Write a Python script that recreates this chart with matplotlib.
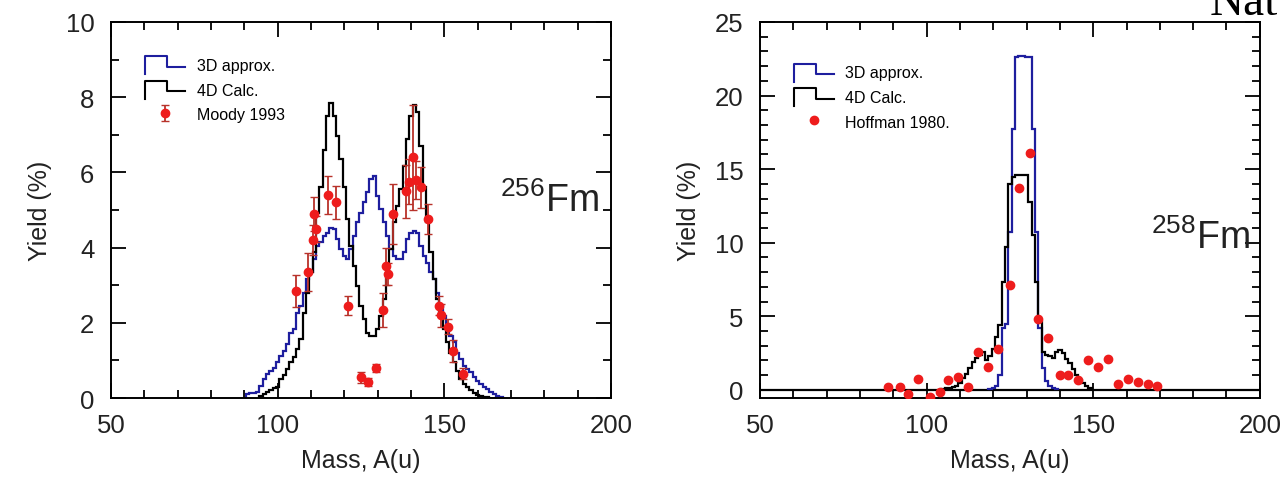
import numpy as np
import matplotlib.pyplot as plt
from matplotlib.legend_handler import HandlerBase
from matplotlib.lines import Line2D

plt.rcParams["font.family"] = ["Liberation Sans", "DejaVu Sans"]
plt.rcParams["mathtext.default"] = "regular"

# --- 256Fm : calculated yields, 1 u bins -------------------------------
fm256_black_start = 95
fm256_black = [
    0.06, 0.10, 0.15, 0.20, 0.26, 0.30, 0.50, 0.62, 0.77, 0.95,
    1.10, 1.30, 1.57, 2.27, 2.80, 3.34, 3.87, 4.93, 5.60, 6.60,
    7.50, 7.85, 7.50, 6.97, 6.35, 5.60, 4.76, 4.05, 3.50, 2.98,
    2.45, 2.10, 1.74, 1.65, 1.65, 1.83, 2.18, 2.63, 3.25, 3.96,
    4.67, 5.10, 5.55, 6.17, 6.88, 7.50, 7.80, 7.60, 6.70, 5.60,
    4.67, 3.87, 3.16, 2.63, 2.18, 1.83, 1.48, 1.21, 0.95, 0.73,
    0.50, 0.37, 0.28, 0.20, 0.13, 0.08, 0.05, 0.03, 0.02,
]
fm256_blue_start = 91
fm256_blue = [
    0.10, 0.12, 0.12, 0.15, 0.33, 0.50, 0.63, 0.72, 0.81, 0.95,
    1.12, 1.26, 1.43, 1.74, 1.83, 2.27, 2.45, 2.80, 3.16, 3.34,
    3.69, 4.05, 4.14, 4.31, 4.40, 4.53, 4.49, 4.22, 3.96, 3.78,
    3.69, 3.96, 4.31, 4.67, 4.93, 5.20, 5.47, 5.82, 5.91, 5.38,
    5.02, 4.67, 4.31, 3.96, 3.78, 3.69, 3.69, 3.87, 4.22, 4.40,
    4.45, 4.40, 4.05, 3.78, 3.60, 3.34, 3.16, 2.80, 2.45, 2.18,
    1.92, 1.65, 1.48, 1.21, 1.04, 0.86, 0.77, 0.68, 0.55, 0.46,
    0.37, 0.28, 0.24, 0.15, 0.10, 0.06, 0.02,
]
# Moody 1993 measured yields
moody_mass = [105.5, 109.0, 110.5, 111.0, 111.5, 115.0, 117.5, 121.0, 125.0,
              127.0, 129.5, 131.5, 132.5, 133.0, 134.5, 138.5, 139.5, 140.5,
              141.5, 143.0, 145.0, 148.5, 149.0, 151.0, 152.5, 155.5]
moody_yield = [2.85, 3.35, 4.2, 4.9, 4.5, 5.4, 5.2, 2.45, 0.55,
               0.42, 0.8, 2.35, 3.5, 3.3, 4.9, 5.5, 5.75, 6.4,
               5.8, 5.6, 4.75, 2.45, 2.2, 1.9, 1.25, 0.65]
moody_err = [0.42, 0.5, 0.4, 0.45, 0.35, 0.5, 0.45, 0.25, 0.15,
             0.1, 0.1, 0.45, 0.5, 0.3, 0.8, 0.7, 0.6, 1.4,
             0.5, 0.55, 0.4, 0.25, 0.3, 0.2, 0.3, 0.15]

# --- 258Fm : calculated yields, 1 u bins -------------------------------
fm258_black_start = 105
fm258_black = [
    0.05, 0.10, 0.15, 0.20, 0.30, 0.50, 0.80, 1.10, 1.50, 1.90,
    2.20, 2.40, 2.55, 2.00, 2.30, 2.80, 3.60, 4.40, 7.30, 9.70,
    14.0, 14.5, 14.6, 14.6, 14.6, 14.6, 12.8, 10.5, 7.30, 4.60,
    2.60, 2.40, 2.30, 2.20, 2.60, 2.70, 2.50, 2.10, 1.80, 1.40,
    1.00, 0.70, 0.50, 0.30, 0.10,
]
fm258_blue_start = 119
fm258_blue = [
    0.05, 0.10, 0.30, 1.00, 4.20, 4.50, 10.7, 17.7, 22.6, 22.7,
    22.7, 22.6, 22.6, 17.7, 10.7, 4.20, 1.50, 0.60, 0.30, 0.10,
    0.05,
]
# Hoffman 1980 measured yields
hoffman_mass = [88.5, 92.0, 94.5, 97.5, 101.0, 104.0, 106.5, 109.5, 112.5,
                115.5, 118.5, 121.5, 125.0, 127.8, 131.0, 133.5, 136.5, 140.0,
                142.5, 145.5, 148.5, 151.5, 154.5, 157.5, 160.5, 163.5, 166.5,
                169.0]
hoffman_yield = [0.2, 0.2, -0.25, 0.76, -0.48, -0.14, 0.65, 0.88, 0.2,
                 2.57, 1.56, 2.8, 7.1, 13.7, 16.1, 4.84, 3.55, 1.0,
                 1.04, 0.65, 2.0, 1.56, 2.1, 0.43, 0.76, 0.54, 0.43,
                 0.3]

BLUE = "#1e1e9e"
RED = "#ee1c1c"
EBAR = "#b8322a"
TEXT = "#222222"


class StepHandler(HandlerBase):
    """Legend key drawn as a small step, like a histogram edge."""

    def create_artists(self, legend, orig_handle, xdescent, ydescent,
                       width, height, fontsize, trans):
        x0, y0 = -xdescent, -ydescent
        xs = [x0, x0, x0 + 0.55 * width, x0 + 0.55 * width, x0 + width]
        ys = [y0 - 0.15 * height, y0 + 1.05 * height, y0 + 1.05 * height,
              y0 + 0.35 * height, y0 + 0.35 * height]
        line = Line2D(xs, ys, color=orig_handle.get_edgecolor(), lw=1.5,
                      transform=trans)
        return [line]


def edges(start, values):
    return np.arange(len(values) + 1) + start - 0.5


def style_axes(ax, ymax, ymin, yminor):
    ax.set_xlim(50, 200)
    ax.set_ylim(ymin, ymax)
    ax.set_xticks([50, 100, 150, 200])
    ax.set_xticks(np.arange(50, 201, 10), minor=True)
    ax.set_yticks(np.arange(0, ymax + 0.1, 5 if ymax > 10 else 2))
    ax.set_yticks(np.arange(0, ymax + 0.1, yminor), minor=True)
    ax.tick_params(which="both", direction="in", top=True, right=True,
                   width=1.3, labelsize=18.5, labelcolor=TEXT)
    ax.tick_params(which="major", length=11, pad=11)
    ax.tick_params(which="minor", length=6)
    ax.tick_params(axis="y", which="major", pad=12)
    for s in ax.spines.values():
        s.set_linewidth(1.4)
    ax.set_xlabel("Mass, A(u)", fontsize=18, color=TEXT, labelpad=8)
    ax.set_ylabel("Yield (%)", fontsize=18, color=TEXT, labelpad=10)


def add_legend(ax, steps, y_top):
    ax.legend(handler_map={s: StepHandler() for s in steps},
              loc="upper left", bbox_to_anchor=(0.04, y_top), frameon=False,
              fontsize=11.5, handlelength=2.5, handleheight=1.05,
              handletextpad=0.7, labelspacing=0.55)


fig = plt.figure(figsize=(12.85, 4.85), dpi=100)
ax1 = fig.add_axes([0.0864, 0.1773, 0.389, 0.7753])
ax2 = fig.add_axes([0.5914, 0.1773, 0.389, 0.7753])

# left panel: 256Fm
s_blue = ax1.stairs(fm256_blue, edges(fm256_blue_start, fm256_blue),
                    baseline=0, color=BLUE, lw=1.6, label="3D approx.")
s_black = ax1.stairs(fm256_black, edges(fm256_black_start, fm256_black),
                     baseline=0, color="black", lw=1.6, label="4D Calc.")
ax1.errorbar(moody_mass, moody_yield, yerr=moody_err, fmt="o",
             color=RED, ms=6, ecolor=EBAR, elinewidth=1.3, capsize=3,
             label="Moody 1993", zorder=3)
style_axes(ax1, 10, 0, 1)
ax1.text(0.975, 0.497, "$^{256}$Fm", transform=ax1.transAxes, ha="right",
         va="baseline", fontsize=27, color=TEXT)
add_legend(ax1, [s_blue, s_black], 0.945)

# right panel: 258Fm
ax2.axhline(0, color="black", lw=1.6, zorder=1)
t_blue = ax2.stairs(fm258_blue, edges(fm258_blue_start, fm258_blue),
                    baseline=0, color=BLUE, lw=1.6, label="3D approx.")
t_black = ax2.stairs(fm258_black, edges(fm258_black_start, fm258_black),
                     baseline=0, color="black", lw=1.6, label="4D Calc.")
ax2.plot(hoffman_mass, hoffman_yield, "o", color=RED, ms=6,
         label="Hoffman 1980.", zorder=3)
style_axes(ax2, 25, -0.55, 1)
ax2.text(0.98, 0.40, "$^{258}$Fm", transform=ax2.transAxes, ha="right",
         va="baseline", fontsize=27, color=TEXT)
add_legend(ax2, [t_blue, t_black], 0.925)

# part of a heading cut off at the top edge
fig.text(0.9416, 0.969, "Nat", fontsize=34, family=["Liberation Serif"],
         ha="left", va="baseline")

fig.savefig("out.png", dpi=100)
